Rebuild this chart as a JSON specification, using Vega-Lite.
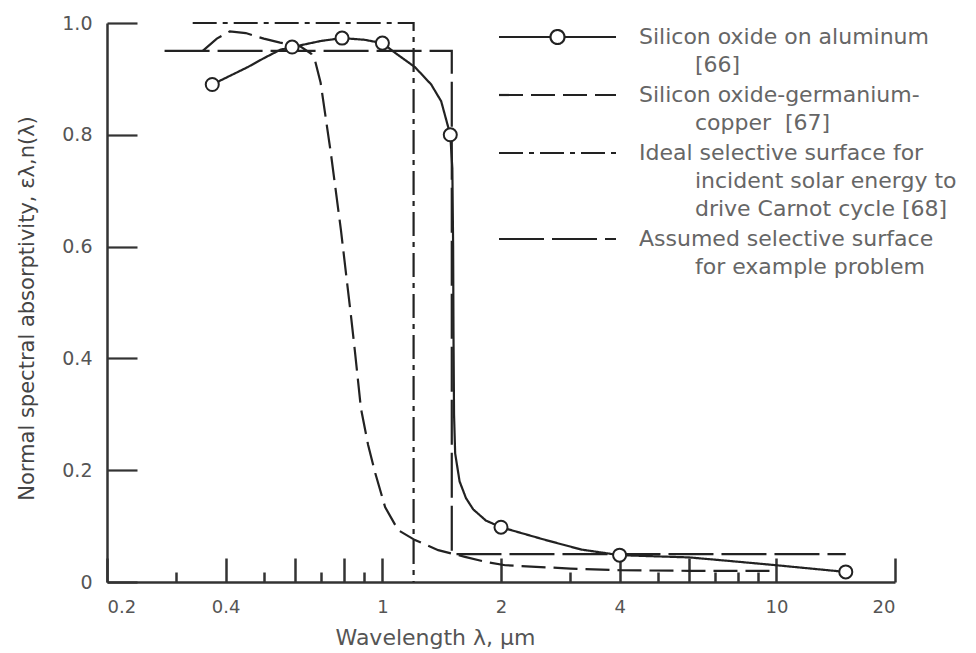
{
  "$schema": "https://vega.github.io/schema/vega-lite/v6.json",
  "width": 788,
  "height": 559,
  "autosize": {"type": "none"},
  "padding": {"left": 107, "top": 23, "right": 81, "bottom": 71},
  "background": "white",
  "config": {"view": {"stroke": null}, "font": "DejaVu Sans"},
  "datasets": {
    "curves": [
      {"series": "Silicon oxide on aluminum [66]", "i": 0, "lambda": 0.37, "alpha": 0.89},
      {"series": "Silicon oxide on aluminum [66]", "i": 1, "lambda": 0.455, "alpha": 0.921},
      {"series": "Silicon oxide on aluminum [66]", "i": 2, "lambda": 0.5, "alpha": 0.937},
      {"series": "Silicon oxide on aluminum [66]", "i": 3, "lambda": 0.55, "alpha": 0.952},
      {"series": "Silicon oxide on aluminum [66]", "i": 4, "lambda": 0.59, "alpha": 0.957},
      {"series": "Silicon oxide on aluminum [66]", "i": 5, "lambda": 0.7, "alpha": 0.968},
      {"series": "Silicon oxide on aluminum [66]", "i": 6, "lambda": 0.79, "alpha": 0.973},
      {"series": "Silicon oxide on aluminum [66]", "i": 7, "lambda": 0.9, "alpha": 0.97},
      {"series": "Silicon oxide on aluminum [66]", "i": 8, "lambda": 1.0, "alpha": 0.964},
      {"series": "Silicon oxide on aluminum [66]", "i": 9, "lambda": 1.08, "alpha": 0.946},
      {"series": "Silicon oxide on aluminum [66]", "i": 10, "lambda": 1.21, "alpha": 0.921},
      {"series": "Silicon oxide on aluminum [66]", "i": 11, "lambda": 1.33, "alpha": 0.89},
      {"series": "Silicon oxide on aluminum [66]", "i": 12, "lambda": 1.41, "alpha": 0.86},
      {"series": "Silicon oxide on aluminum [66]", "i": 13, "lambda": 1.487, "alpha": 0.8},
      {"series": "Silicon oxide on aluminum [66]", "i": 14, "lambda": 1.505, "alpha": 0.74},
      {"series": "Silicon oxide on aluminum [66]", "i": 15, "lambda": 1.512, "alpha": 0.6},
      {"series": "Silicon oxide on aluminum [66]", "i": 16, "lambda": 1.515, "alpha": 0.45},
      {"series": "Silicon oxide on aluminum [66]", "i": 17, "lambda": 1.52, "alpha": 0.3},
      {"series": "Silicon oxide on aluminum [66]", "i": 18, "lambda": 1.53, "alpha": 0.23},
      {"series": "Silicon oxide on aluminum [66]", "i": 19, "lambda": 1.57, "alpha": 0.18},
      {"series": "Silicon oxide on aluminum [66]", "i": 20, "lambda": 1.63, "alpha": 0.15},
      {"series": "Silicon oxide on aluminum [66]", "i": 21, "lambda": 1.7, "alpha": 0.13},
      {"series": "Silicon oxide on aluminum [66]", "i": 22, "lambda": 1.83, "alpha": 0.11},
      {"series": "Silicon oxide on aluminum [66]", "i": 23, "lambda": 2.0, "alpha": 0.098},
      {"series": "Silicon oxide on aluminum [66]", "i": 24, "lambda": 2.6, "alpha": 0.075},
      {"series": "Silicon oxide on aluminum [66]", "i": 25, "lambda": 3.2, "alpha": 0.058},
      {"series": "Silicon oxide on aluminum [66]", "i": 26, "lambda": 4.0, "alpha": 0.048},
      {"series": "Silicon oxide on aluminum [66]", "i": 27, "lambda": 6.0, "alpha": 0.044},
      {"series": "Silicon oxide on aluminum [66]", "i": 28, "lambda": 7.5, "alpha": 0.038},
      {"series": "Silicon oxide on aluminum [66]", "i": 29, "lambda": 10, "alpha": 0.03},
      {"series": "Silicon oxide on aluminum [66]", "i": 30, "lambda": 15, "alpha": 0.018},
      {"series": "Silicon oxide-germanium-copper [67]", "i": 0, "lambda": 0.35, "alpha": 0.95},
      {"series": "Silicon oxide-germanium-copper [67]", "i": 1, "lambda": 0.38, "alpha": 0.972},
      {"series": "Silicon oxide-germanium-copper [67]", "i": 2, "lambda": 0.41, "alpha": 0.985},
      {"series": "Silicon oxide-germanium-copper [67]", "i": 3, "lambda": 0.45, "alpha": 0.982},
      {"series": "Silicon oxide-germanium-copper [67]", "i": 4, "lambda": 0.5, "alpha": 0.972},
      {"series": "Silicon oxide-germanium-copper [67]", "i": 5, "lambda": 0.55, "alpha": 0.965},
      {"series": "Silicon oxide-germanium-copper [67]", "i": 6, "lambda": 0.62, "alpha": 0.958},
      {"series": "Silicon oxide-germanium-copper [67]", "i": 7, "lambda": 0.66, "alpha": 0.945},
      {"series": "Silicon oxide-germanium-copper [67]", "i": 8, "lambda": 0.674, "alpha": 0.934},
      {"series": "Silicon oxide-germanium-copper [67]", "i": 9, "lambda": 0.697, "alpha": 0.893},
      {"series": "Silicon oxide-germanium-copper [67]", "i": 10, "lambda": 0.74, "alpha": 0.767},
      {"series": "Silicon oxide-germanium-copper [67]", "i": 11, "lambda": 0.785, "alpha": 0.629},
      {"series": "Silicon oxide-germanium-copper [67]", "i": 12, "lambda": 0.832, "alpha": 0.477},
      {"series": "Silicon oxide-germanium-copper [67]", "i": 13, "lambda": 0.851, "alpha": 0.415},
      {"series": "Silicon oxide-germanium-copper [67]", "i": 14, "lambda": 0.882, "alpha": 0.311},
      {"series": "Silicon oxide-germanium-copper [67]", "i": 15, "lambda": 0.92, "alpha": 0.245},
      {"series": "Silicon oxide-germanium-copper [67]", "i": 16, "lambda": 0.959, "alpha": 0.195},
      {"series": "Silicon oxide-germanium-copper [67]", "i": 17, "lambda": 1.016, "alpha": 0.134},
      {"series": "Silicon oxide-germanium-copper [67]", "i": 18, "lambda": 1.096, "alpha": 0.093},
      {"series": "Silicon oxide-germanium-copper [67]", "i": 19, "lambda": 1.21, "alpha": 0.075},
      {"series": "Silicon oxide-germanium-copper [67]", "i": 20, "lambda": 1.386, "alpha": 0.057},
      {"series": "Silicon oxide-germanium-copper [67]", "i": 21, "lambda": 1.62, "alpha": 0.045},
      {"series": "Silicon oxide-germanium-copper [67]", "i": 22, "lambda": 1.83, "alpha": 0.036},
      {"series": "Silicon oxide-germanium-copper [67]", "i": 23, "lambda": 2.05, "alpha": 0.03},
      {"series": "Silicon oxide-germanium-copper [67]", "i": 24, "lambda": 3.0, "alpha": 0.024},
      {"series": "Silicon oxide-germanium-copper [67]", "i": 25, "lambda": 4.0, "alpha": 0.021},
      {"series": "Silicon oxide-germanium-copper [67]", "i": 26, "lambda": 6.0, "alpha": 0.02},
      {"series": "Silicon oxide-germanium-copper [67]", "i": 27, "lambda": 10, "alpha": 0.02},
      {"series": "Ideal selective surface for incident solar energy to drive Carnot cycle [68]", "i": 0, "lambda": 0.33, "alpha": 1.0},
      {"series": "Ideal selective surface for incident solar energy to drive Carnot cycle [68]", "i": 1, "lambda": 1.2, "alpha": 1.0},
      {"series": "Ideal selective surface for incident solar energy to drive Carnot cycle [68]", "i": 2, "lambda": 1.2, "alpha": 0.0},
      {"series": "Assumed selective surface for example problem", "i": 0, "lambda": 0.28, "alpha": 0.95},
      {"series": "Assumed selective surface for example problem", "i": 1, "lambda": 1.5, "alpha": 0.95},
      {"series": "Assumed selective surface for example problem", "i": 2, "lambda": 1.5, "alpha": 0.05},
      {"series": "Assumed selective surface for example problem", "i": 3, "lambda": 15, "alpha": 0.05}
    ],
    "markers": [
      {"lambda": 0.37, "alpha": 0.89},
      {"lambda": 0.59, "alpha": 0.957},
      {"lambda": 0.79, "alpha": 0.973},
      {"lambda": 1.0, "alpha": 0.964},
      {"lambda": 1.487, "alpha": 0.8},
      {"lambda": 2.0, "alpha": 0.098},
      {"lambda": 4.0, "alpha": 0.048},
      {"lambda": 15, "alpha": 0.018}
    ]
  },
  "encoding": {
    "x": {
      "field": "lambda",
      "type": "quantitative",
      "scale": {"type": "log", "domain": [0.2, 20]},
      "axis": {
        "title": "Wavelength λ, μm",
        "values": [0.2, 0.4, 0.6, 0.8, 1, 2, 4, 6, 10, 20],
        "labelExpr": "(datum.value == 0.6 || datum.value == 0.8 || datum.value == 6) ? '' : (datum.value < 1 ? format(datum.value, '.1f') : format(datum.value, 'd'))",
        "tickSize": -24,
        "tickWidth": 2.5,
        "tickColor": "#333",
        "domainColor": "#333",
        "domainWidth": 2.5,
        "grid": false,
        "labelFont": "DejaVu Sans",
        "labelFontSize": 18,
        "labelColor": "#555",
        "labelPadding": 40,
        "labelFlush": true,
        "labelOverlap": false,
        "titleFont": "DejaVu Sans",
        "titleFontSize": 22,
        "titleFontWeight": "normal",
        "titleColor": "#555",
        "titleX": 328,
        "titleY": 55,
        "titleBaseline": "middle"
      }
    },
    "y": {
      "field": "alpha",
      "type": "quantitative",
      "scale": {"domain": [0, 1]},
      "axis": {
        "title": "Normal spectral absorptivity, ελ,n(λ)",
        "values": [0, 0.2, 0.4, 0.6, 0.8, 1],
        "labelExpr": "datum.value == 0 ? '0' : format(datum.value, '.1f')",
        "tickSize": -30,
        "tickWidth": 2.2,
        "tickColor": "#333",
        "domainColor": "#333",
        "domainWidth": 2.5,
        "grid": false,
        "labelFont": "DejaVu Sans",
        "labelFontSize": 19,
        "labelColor": "#555",
        "labelPadding": 45,
        "titleFont": "DejaVu Sans",
        "titleFontSize": 21,
        "titleFontWeight": "normal",
        "titleColor": "#444",
        "titleX": -80,
        "titleY": 285,
        "titleBaseline": "middle",
        "titleAngle": -90
      }
    }
  },
  "layer": [
    {
      "data": {"name": "curves"},
      "mark": {"type": "line", "color": "#222", "strokeWidth": 2.2},
      "encoding": {
        "order": {"field": "i", "type": "quantitative"},
        "strokeDash": {
          "field": "series",
          "type": "nominal",
          "scale": {
            "domain": [
              "Silicon oxide on aluminum [66]",
              "Silicon oxide-germanium-copper [67]",
              "Ideal selective surface for incident solar energy to drive Carnot cycle [68]",
              "Assumed selective surface for example problem"
            ],
            "range": [[1, 0], [24, 8], [24, 6, 5, 6], [45, 8]]
          },
          "legend": {
            "orient": "none",
            "legendX": 386,
            "legendY": 3,
            "title": null,
            "symbolSize": 100,
            "symbolStrokeWidth": 2.2,
            "symbolStrokeColor": "#222",
            "labelFont": "DejaVu Sans",
            "labelFontSize": 22,
            "labelColor": "#666",
            "labelOffset": 124,
            "labelLimit": 0,
            "rowPadding": 8,
            "labelExpr": "datum.label == 'Silicon oxide on aluminum [66]' ? ['Silicon oxide on aluminum', '\u200b\u00a0\u00a0\u00a0\u00a0\u00a0\u00a0\u00a0\u00a0[66]'] : datum.label == 'Silicon oxide-germanium-copper [67]' ? ['Silicon oxide-germanium-', '\u200b\u00a0\u00a0\u00a0\u00a0\u00a0\u00a0\u00a0\u00a0copper\u00a0\u00a0[67]'] : datum.label == 'Assumed selective surface for example problem' ? ['Assumed selective surface', '\u200b\u00a0\u00a0\u00a0\u00a0\u00a0\u00a0\u00a0\u00a0for example problem'] : ['Ideal selective surface for', '\u200b\u00a0\u00a0\u00a0\u00a0\u00a0\u00a0\u00a0\u00a0incident solar energy to', '\u200b\u00a0\u00a0\u00a0\u00a0\u00a0\u00a0\u00a0\u00a0drive Carnot cycle [68]']",
            "encode": {
              "labels": {"update": {"lineHeight": {"value": 28}}},
              "symbols": {
                "update": {
                  "shape": {"signal": "datum.value == 'Silicon oxide on aluminum [66]' ? 'M-1,0L9.3,0M12.1,0L22.4,0M12.1,0A1.4,1.4,0,1,1,9.3,0A1.4,1.4,0,1,1,12.1,0Z' : 'M-1,0L22.4,0'"},
                  "fill": {"value": "white"},
                  "stroke": {"value": "#222"}
                }
              }
            }
          }
        }
      }
    },
    {
      "data": {"name": "markers"},
      "mark": {"type": "point", "filled": true, "fill": "white", "stroke": "#222", "strokeWidth": 2, "size": 170, "opacity": 1},
      "encoding": {
        "x": {
          "field": "lambda",
          "type": "quantitative",
          "scale": {"type": "log", "domain": [0.2, 20]},
          "axis": {
            "orient": "bottom",
            "title": null,
            "values": [0.3, 0.5, 0.7, 0.9, 3, 5, 7, 8, 9],
            "labels": false,
            "domain": false,
            "grid": false,
            "tickSize": -10,
            "tickWidth": 2.5,
            "tickColor": "#333"
          }
        }
      }
    }
  ],
  "resolve": {"axis": {"x": "independent"}}
}
